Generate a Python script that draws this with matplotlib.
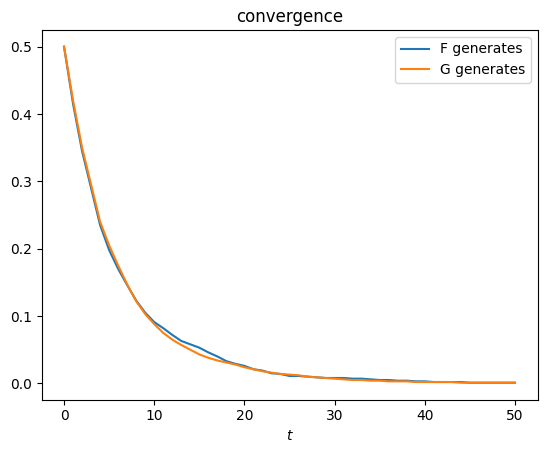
import matplotlib
matplotlib.use("Agg")
import matplotlib.pyplot as plt
import numpy as np

t = list(range(51))
f_values = [0.500, 0.415, 0.345, 0.290, 0.235, 0.198, 0.170, 0.146, 0.123, 0.105,
            0.091, 0.082, 0.072, 0.063, 0.058, 0.053, 0.046, 0.040, 0.033, 0.029,
            0.026, 0.021, 0.019, 0.015, 0.014, 0.011, 0.011, 0.010, 0.009, 0.008,
            0.008, 0.008, 0.007, 0.007, 0.006, 0.005, 0.005, 0.004, 0.004, 0.003,
            0.003, 0.002, 0.002, 0.002, 0.002, 0.001, 0.001, 0.001, 0.001, 0.001,
            0.001]
g_values = [0.500, 0.420, 0.350, 0.295, 0.240, 0.205, 0.175, 0.147, 0.122, 0.103,
            0.088, 0.075, 0.065, 0.057, 0.050, 0.043, 0.038, 0.034, 0.031, 0.028,
            0.024, 0.021, 0.018, 0.016, 0.014, 0.013, 0.012, 0.010, 0.009, 0.008,
            0.007, 0.006, 0.005, 0.005, 0.004, 0.004, 0.003, 0.003, 0.003, 0.002,
            0.002, 0.002, 0.002, 0.002, 0.001, 0.001, 0.001, 0.001, 0.001, 0.001,
            0.001]

fig = plt.figure(figsize=(5.47, 4.53), dpi=100)
ax = fig.add_axes([41.5/547, 53.5/453, 496/547, 369.6/453])
ax.plot(t, f_values, label="F generates")
ax.plot(t, g_values, label="G generates")
ax.set_title("convergence")
ax.set_xlabel("$t$")
ax.legend()
fig.savefig("out.png", dpi=100)
